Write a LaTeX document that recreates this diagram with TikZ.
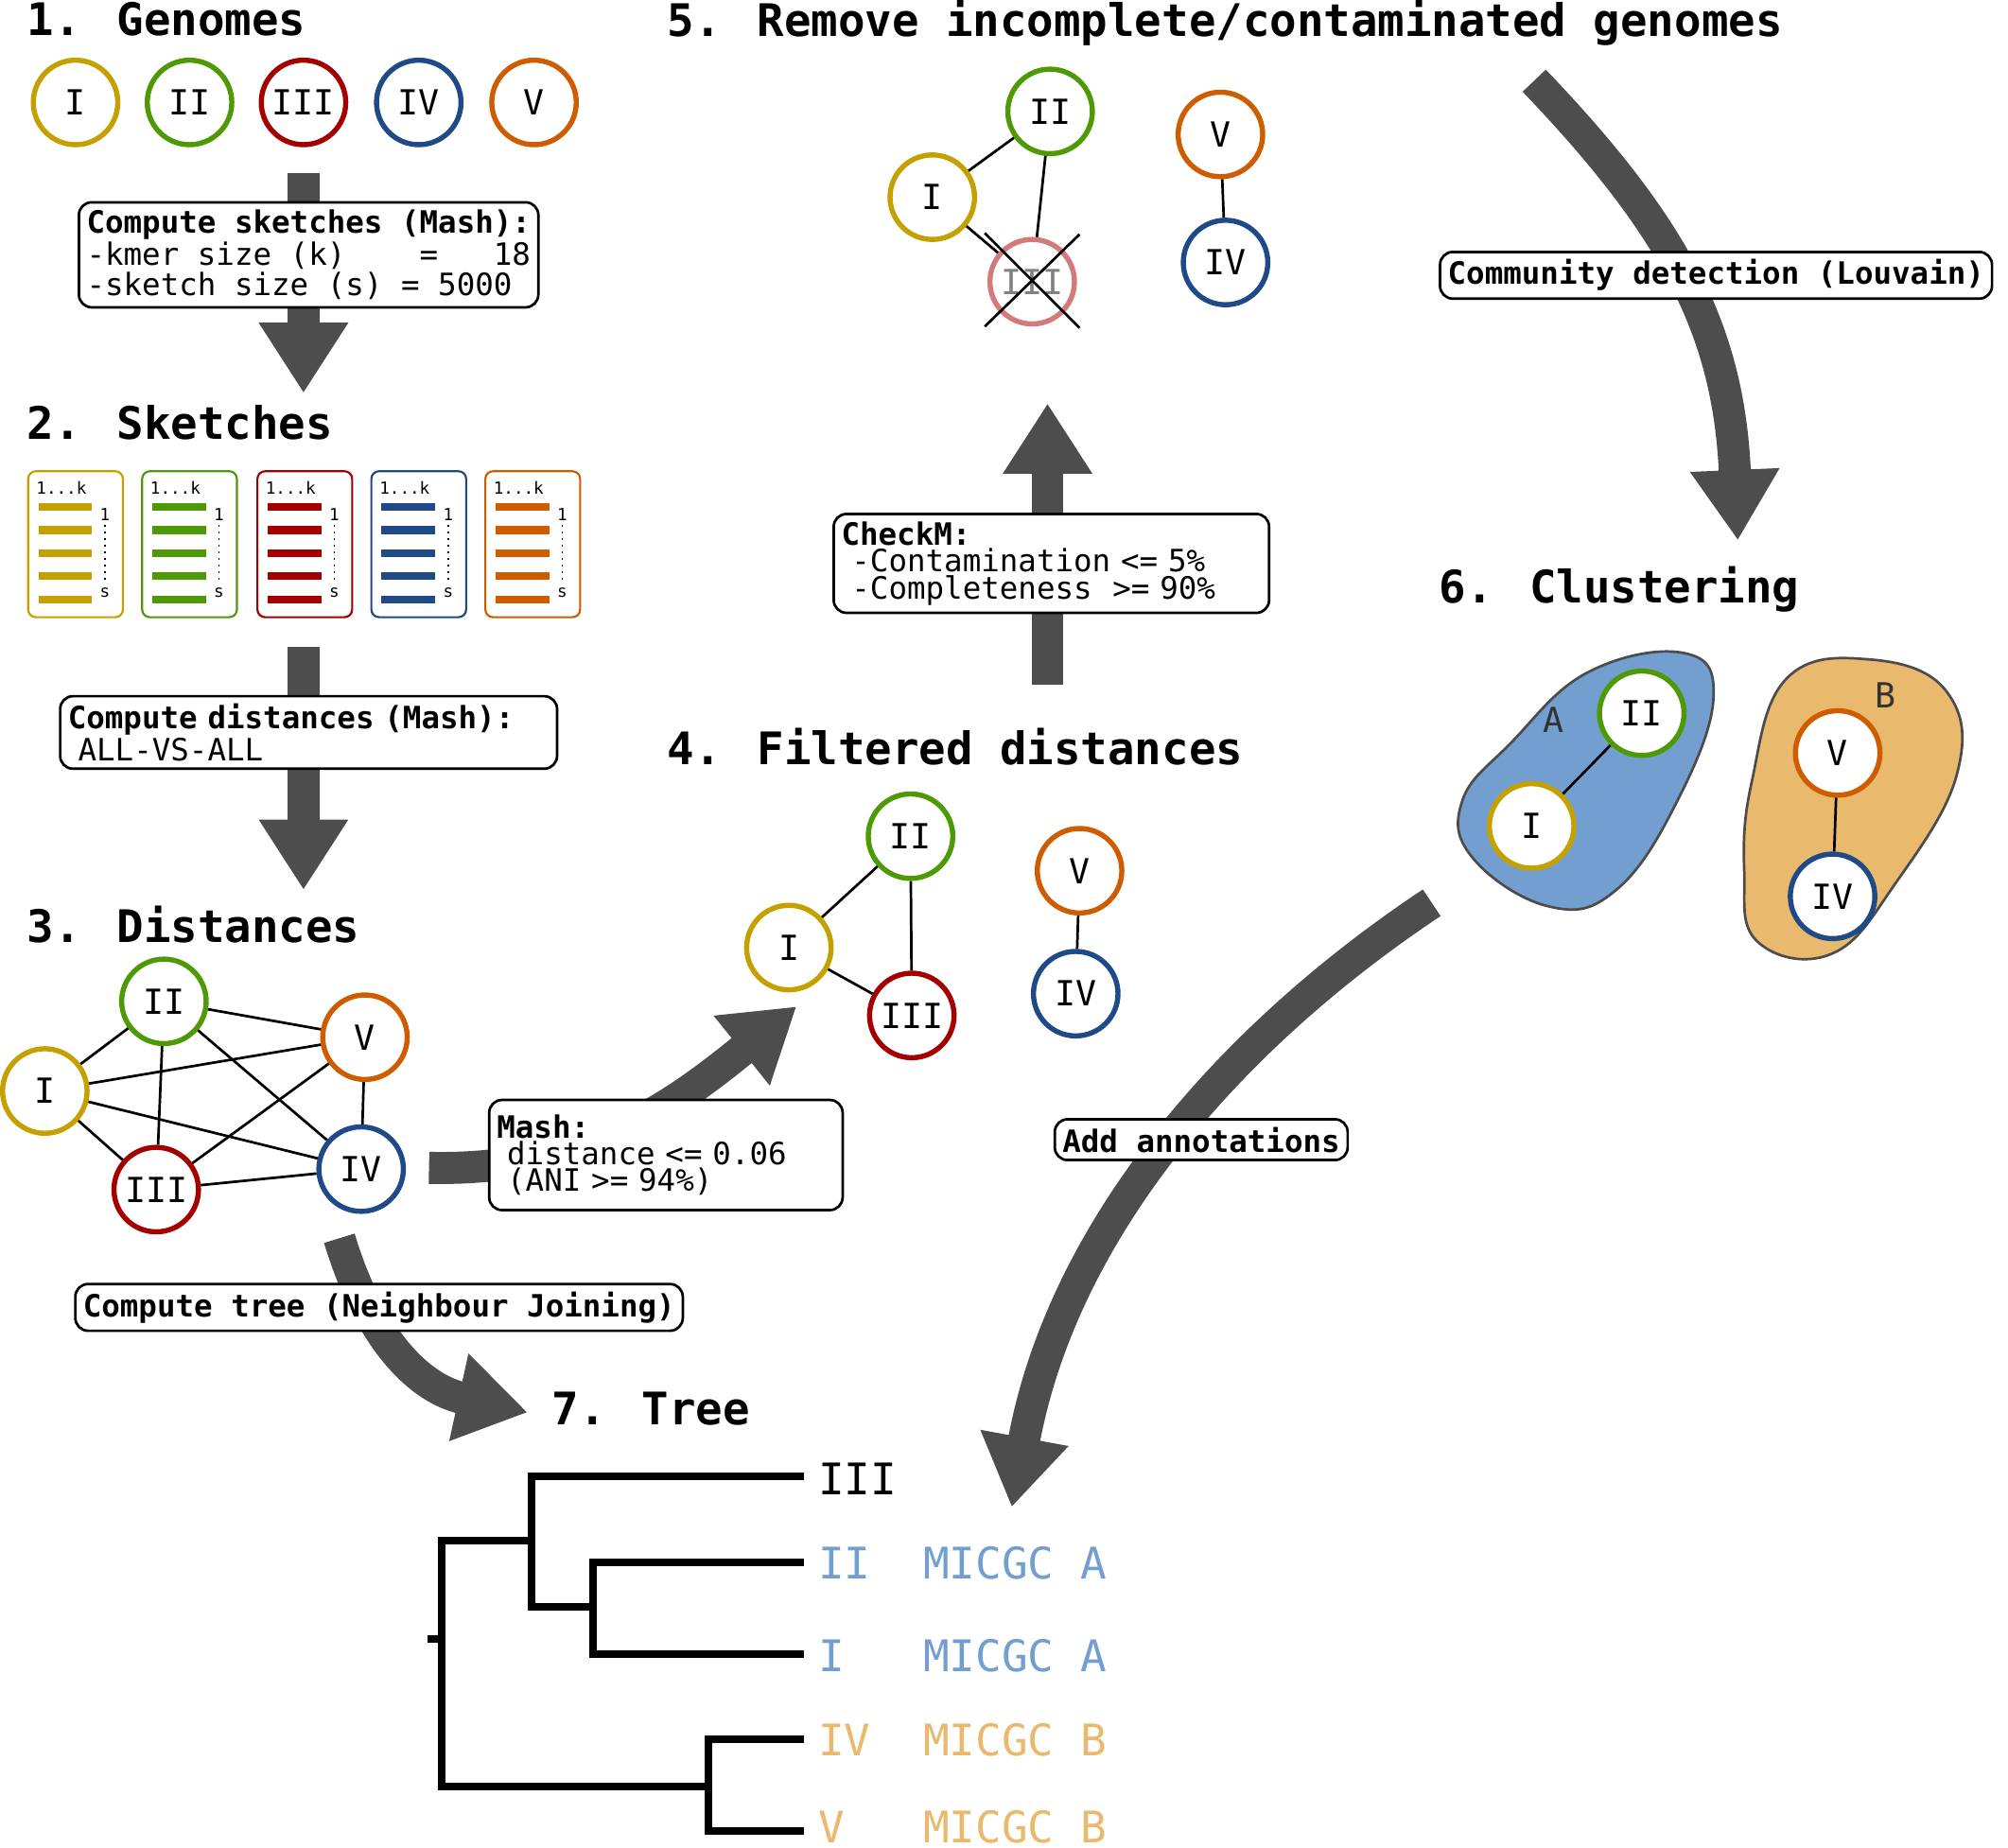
\documentclass[tikz,border=0pt]{standalone}
\usepackage{fontspec}
\setmainfont{DejaVu Sans Mono}
\setmonofont{DejaVu Sans Mono}
\usetikzlibrary{arrows.meta}
\definecolor{cy}{HTML}{C4A000}
\definecolor{cg}{HTML}{4E9A06}
\definecolor{cr}{HTML}{A40000}
\definecolor{cb}{HTML}{204A87}
\definecolor{co}{HTML}{CE5C00}
\definecolor{lb}{HTML}{729FCF}
\definecolor{lo}{HTML}{E9B96E}
\definecolor{pr}{HTML}{D47A7A}
\definecolor{arr}{HTML}{4D4D4D}
\tikzset{
 g/.style={circle,draw=#1,line width=2pt,fill=white,minimum size=33pt,inner sep=0pt,font=\fontsize{13.5}{15}\selectfont},
 ttl/.style={anchor=west,font=\fontsize{17.5}{20}\selectfont\bfseries},
 box/.style={draw,rounded corners=5pt,line width=1pt,fill=white,align=left,font=\fontsize{12}{10.5}\selectfont,inner sep=3pt},
 big/.style={draw=arr,line width=12.5pt,-{Triangle[length=27.5pt,width=33pt]}},
 ed/.style={line width=1pt},
 tl/.style={anchor=west,font=\fontsize{17}{20}\selectfont},
 tr/.style={line width=3pt,line cap=rect}
}
\begin{document}
\begin{tikzpicture}[x=0.5pt,y=-0.5pt]
\useasboundingbox (0,0) rectangle (1568,1443);
% titles
\node[ttl] (t1) at (14,15) {1. Genomes};
\node[ttl] (t2) at (14,330) {2. Sketches};
\node[ttl] (t3) at (14,722) {3. Distances};
\node[ttl] (t4) at (514,583) {4. Filtered distances};
\node[ttl] (t5) at (514,18) {5. Remove incomplete/contaminated genomes};
\node[ttl] (t6) at (1117,460) {6. Clustering};
\node[ttl] (t7) at (424,1100) {7. Tree};
% genomes
\node[g=cy] (a1) at (59,80) {I};
\node[g=cg] (a2) at (148,80) {II};
\node[g=cr] (a3) at (237,80) {III};
\node[g=cb] (a4) at (327,80) {IV};
\node[g=co] (a5) at (417,80) {V};
% arrow 1
\coordinate (s1) at (237,135); \coordinate (e1) at (237,307);
\draw[big] (s1) -- (e1);
\node[box] (b1) at (241,199) {\textbf{Compute sketches (Mash):}\\-kmer size (k)~~~~=~~~18\\-sketch size (s) = 5000};
% sketches
\foreach \c/\x in {cy/22,cg/111,cr/201,cb/290,co/379}{
 \draw[\c,line width=0.8pt,rounded corners=3pt] (\x,368) rectangle ++(74,114);
 \node[font=\fontsize{6.5}{7}\selectfont,anchor=west,inner sep=0] at (\x+6,381) {1...k};
 \foreach \y in {396,414,432,450,468} \draw[\c,line width=3pt] (\x+8,\y) -- ++(42,0);
 \node[font=\fontsize{6.5}{7}\selectfont,inner sep=0] at (\x+60,402) {1};
 \draw[dotted,line width=0.6pt] (\x+60,410) -- (\x+60,456);
 \node[font=\fontsize{6.5}{7}\selectfont,inner sep=0] at (\x+60,463) {s};
}
% arrow 2
\coordinate (s2) at (237,505); \coordinate (e2) at (237,695);
\draw[big] (s2) -- (e2);
\node[box,text width=188pt] (b2) at (241,572) {\textbf{Compute distances (Mash):}\\~ALL-VS-ALL};
% distances
\node[g=cy] (dI) at (35,852) {I};
\node[g=cg] (dII) at (128,782) {II};
\node[g=co] (dV) at (285,810) {V};
\node[g=cr] (dIII) at (122,929) {III};
\node[g=cb] (dIV) at (282,913) {IV};
\foreach \a/\b in {dI/dII,dI/dV,dI/dIII,dI/dIV,dII/dV,dII/dIII,dII/dIV,dV/dIII,dV/dIV,dIII/dIV}
 \draw[ed] (\a) -- (\b);
% mash arrow
\coordinate (s3) at (335,912); \coordinate (e3) at (622,786);
\draw[big] (s3) .. controls (460,915) and (530,860) .. (e3);
\node[box,text width=132pt,minimum height=43pt] (b3) at (520,902) {\textbf{Mash:}\\~distance <= 0.06\\~(ANI >= 94\%)};
% filtered
\node[g=cg] (fII) at (711,653) {II};
\node[g=cy] (fI) at (616,740) {I};
\node[g=cr] (fIII) at (712,793) {III};
\node[g=co] (fV) at (843,680) {V};
\node[g=cb] (fIV) at (840,776) {IV};
\draw[ed] (fI) -- (fII); \draw[ed] (fII) -- (fIII); \draw[ed] (fI) -- (fIII); \draw[ed] (fV) -- (fIV);
% checkm arrow
\coordinate (s4) at (818,535); \coordinate (e4) at (818,315);
\draw[big] (s4) -- (e4);
\node[box,text width=164pt,minimum height=37pt] (b4) at (821,440) {\textbf{CheckM:}\\~-Contamination <= 5\%\\~-Completeness~~>= 90\%};
% removed
\node[g=cg] (rII) at (820,87) {II};
\node[g=cy] (rI) at (728,154) {I};
\node[g=pr,text=gray] (rIII) at (806,220) {III};
\node[g=co] (rV) at (953,105) {V};
\node[g=cb] (rIV) at (957,205) {IV};
\draw[ed] (rI) -- (rII); \draw[ed] (rII) -- (rIII); \draw[ed] (rI) -- (rIII); \draw[ed] (rV) -- (rIV);
\draw[ed] (rIII.center) ++(-37,-38) -- ++(74,74);
\draw[ed] (rIII.center) ++(-37,35) -- ++(74,-72);
% community arrow
\coordinate (s5) at (1198,63); \coordinate (e5) at (1357,422);
\draw[big] (s5) .. controls (1310,180) and (1350,260) .. (e5);
\node[box,font=\fontsize{12}{10.5}\selectfont\bfseries] (b5) at (1340,215) {Community detection (Louvain)};
% clusters
\draw[fill=lb,draw=black!70,line width=1pt] plot[smooth cycle,tension=0.7] coordinates {(1142,625) (1180,580) (1240,525) (1315,510) (1338,545) (1310,625) (1262,695) (1210,708) (1150,670)};
\draw[fill=lo,draw=black!70,line width=1pt] plot[smooth cycle,tension=0.7] coordinates {(1368,610) (1395,530) (1460,515) (1520,540) (1528,605) (1480,690) (1430,745) (1372,735) (1362,680)};
\node[font=\fontsize{13.5}{15}\selectfont,text=black!80] (lA) at (1213,562) {A};
\node[font=\fontsize{13.5}{15}\selectfont,text=black!80] (lB) at (1472,543) {B};
\node[g=cg] (cII) at (1282,557) {II};
\node[g=cy] (cI) at (1196,645) {I};
\node[g=co] (cV) at (1435,588) {V};
\node[g=cb] (cIV) at (1431,700) {IV};
\draw[ed] (cI) -- (cII); \draw[ed] (cV) -- (cIV);
% annotation arrow
\coordinate (s6) at (1118,705); \coordinate (e6) at (790,1177);
\draw[big] (s6) .. controls (960,810) and (830,960) .. (e6);
\node[box,font=\fontsize{12}{10.5}\selectfont\bfseries] (b6) at (938,890) {Add annotations};
% tree arrow
\coordinate (s7) at (265,967); \coordinate (e7) at (412,1103);
\draw[big] (s7) .. controls (290,1050) and (330,1085) .. (e7);
\node[box,font=\fontsize{12}{10.5}\selectfont\bfseries] (b7) at (296,1021) {Compute tree (Neighbour Joining)};
% tree
\draw[tr] (337,1280) -- (345,1280);
\draw[tr] (345,1203) -- (345,1395);
\draw[tr] (345,1203) -- (415,1203);
\draw[tr] (415,1153) -- (415,1255);
\draw[tr] (415,1153) -- (625,1153);
\draw[tr] (415,1255) -- (463,1255);
\draw[tr] (463,1220) -- (463,1292);
\draw[tr] (463,1220) -- (625,1220);
\draw[tr] (463,1292) -- (625,1292);
\draw[tr] (345,1395) -- (553,1395);
\draw[tr] (553,1358) -- (553,1430);
\draw[tr] (553,1358) -- (625,1358);
\draw[tr] (553,1430) -- (625,1430);
\node[tl] (l1) at (632,1155) {III};
\node[tl,text=lb] (l2) at (632,1221) {II~~MICGC A};
\node[tl,text=lb] (l3) at (632,1293) {I~~~MICGC A};
\node[tl,text=lo] (l4) at (632,1359) {IV~~MICGC B};
\node[tl,text=lo] (l5) at (632,1427) {V~~~MICGC B};
\end{tikzpicture}
\end{document}
